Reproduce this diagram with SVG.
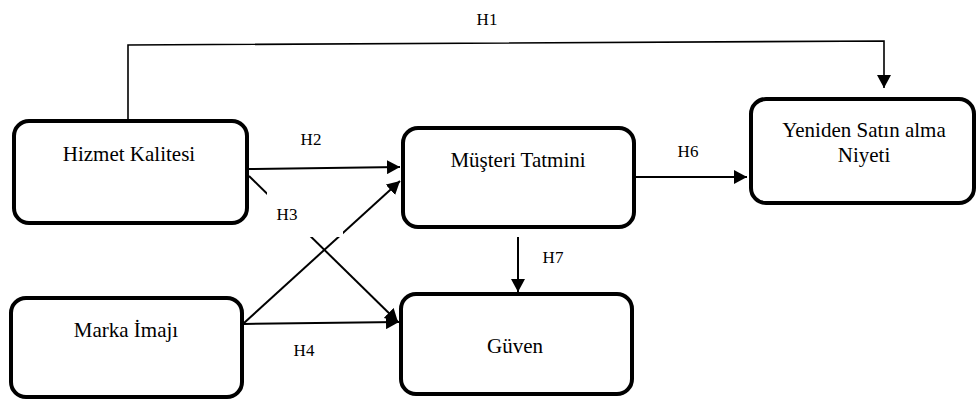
<svg xmlns="http://www.w3.org/2000/svg" width="977" height="401" viewBox="0 0 977 401">
<style>
.box{fill:#fff;stroke:#000;stroke-width:4}
.nt{font-family:'Liberation Serif','Times New Roman','DejaVu Serif',serif;font-size:21px;fill:#000;text-anchor:middle}
.lb{font-family:'Liberation Serif','Times New Roman','DejaVu Serif',serif;font-size:17px;fill:#000;text-anchor:middle}
.ln{fill:none;stroke:#000;stroke-width:2}
</style>
<defs>
<marker id="ah" markerUnits="userSpaceOnUse" markerWidth="13" markerHeight="14" refX="13" refY="7" orient="auto">
<path d="M0,0 L13,7 L0,14 z" fill="#000"/>
</marker>
</defs>
<rect width="977" height="401" fill="#fff"/>
<g id="connectors">
<polyline class="ln" style="stroke-width:1.6" points="128,119 128,45 884,41 884,88" marker-end="url(#ah)"/>
<line class="ln" x1="249" y1="169" x2="400" y2="167" marker-end="url(#ah)"/>
<line class="ln" x1="249" y1="176" x2="398" y2="322" marker-end="url(#ah)"/>
<line class="ln" x1="244" y1="324" x2="399" y2="322" marker-end="url(#ah)"/>
<line class="ln" x1="244" y1="323" x2="400" y2="181" marker-end="url(#ah)"/>
<line class="ln" x1="636" y1="177" x2="747" y2="177" marker-end="url(#ah)"/>
<line class="ln" x1="518" y1="237" x2="518" y2="292" marker-end="url(#ah)"/>
<rect x="267" y="185" width="76" height="52" fill="#fff"/>
<text class="lb" x="487" y="25">H1</text>
<text class="lb" x="311" y="145">H2</text>
<text class="lb" x="287" y="220">H3</text>
<text class="lb" x="304" y="356">H4</text>
<text class="lb" x="688" y="157">H6</text>
<text class="lb" x="553" y="263">H7</text>
</g>
<g id="hizmet">
<rect class="box" x="14" y="121" width="233" height="102" rx="15"/>
<text class="nt" x="129" y="161">Hizmet Kalitesi</text>
</g>
<g id="musteri">
<rect class="box" x="403" y="128" width="231" height="99" rx="15"/>
<text class="nt" x="518" y="167">Müşteri Tatmini</text>
</g>
<g id="yeniden">
<rect class="box" x="751" y="99" width="223" height="104" rx="15"/>
<text class="nt" x="864" y="137">Yeniden Satın alma</text>
<text class="nt" x="864" y="162">Niyeti</text>
</g>
<g id="marka">
<rect class="box" x="11" y="298" width="231" height="99" rx="15"/>
<text class="nt" x="126" y="337">Marka İmajı</text>
</g>
<g id="guven">
<rect class="box" x="401" y="294" width="231" height="100" rx="15"/>
<text class="nt" x="515" y="353">Güven</text>
</g>
</svg>
